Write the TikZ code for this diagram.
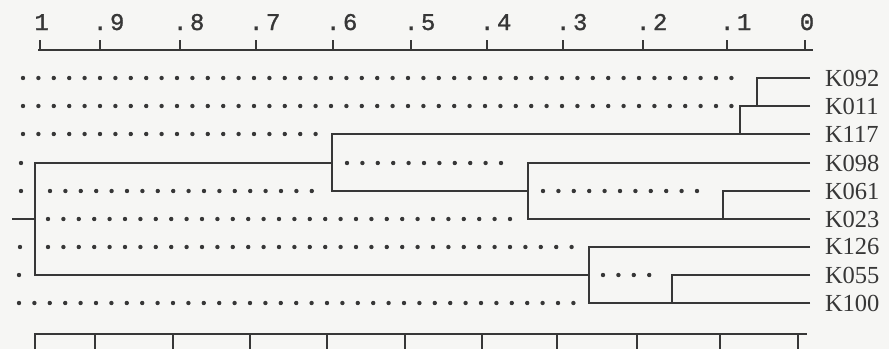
\documentclass[tikz,border=0pt]{standalone}
\usepackage{tikz}
\usepackage{fontspec}
\setmainfont{Liberation Serif}
\newfontfamily\typewriter[FakeBold=1.2]{Liberation Mono}
\usetikzlibrary{calc,positioning}
\definecolor{ink}{RGB}{55,55,55}
\definecolor{paper}{RGB}{246,246,244}

\begin{document}
\begin{tikzpicture}[x=1pt, y=-1pt,
  tree/.style={draw=ink, line width=2.7pt},
  tick/.style={draw=ink, line width=2.2pt},
  dotrow/.style={draw=ink, line width=4.4pt, line cap=round, dash pattern=on 0pt off 15.4pt},
  leaf/.style={anchor=west, inner sep=0pt, outer xsep=15pt, outer ysep=0pt, text=ink,
               font=\fontsize{24.5}{25}\selectfont},
  scalelbl/.style={anchor=base west, inner sep=0pt, text=ink, font=\typewriter\fontsize{24}{24}\selectfont}]

\fill[paper] (0,0) rectangle (889,349);
\useasboundingbox (0,0) rectangle (889,349);

% scale on top
\draw[tick] (38,50) -- (813,50);
\foreach \x in {40,100,180,256,333,411,487,563,643,727,805}
  \draw[tick] (\x,50) -- (\x,40);
\node[scalelbl, anchor=base] (s10) at (41.7,30) {1};
\foreach \x/\t in {100/9,180/8,256/7,333/6,411/5,487/4,563/3,643/2,727/1}
  \node[scalelbl] (s\t) at (\x-7.2,30) {.\kern2.6pt\t};
\node[scalelbl, anchor=base] (s0) at (807,30) {0};

% leaves
\node[leaf] (k092) at (810,78)  {K092};
\node[leaf] (k011) at (810,106) {K011};
\node[leaf] (k117) at (810,134) {K117};
\node[leaf] (k098) at (810,163) {K098};
\node[leaf] (k061) at (810,191) {K061};
\node[leaf] (k023) at (810,219) {K023};
\node[leaf] (k126) at (810,247) {K126};
\node[leaf] (k055) at (810,275) {K055};
\node[leaf] (k100) at (810,303) {K100};

% merge points
\coordinate (m1) at (757,106);
\coordinate (m2) at (740,134);
\coordinate (m3) at (723,219);
\coordinate (m4) at (528,191);
\coordinate (m5) at (332,163);
\coordinate (m6) at (672,303);
\coordinate (m7) at (589,275);
\coordinate (m8) at (35,219);
\coordinate (root) at (12,219);

% dotted filler rows
\foreach \y/\xa/\xb in {78/23/742, 106/23/735, 134/23/317, 163/347/513,
    191/50/317, 191/543/707, 219/48/513, 247/48/575, 275/603/657, 303/19/575}
  \draw[dotrow] (\xa,\y) -- (\xb,\y);
\foreach \x/\y in {21/163, 21/191, 20/247, 19/275}
  \fill[ink] (\x,\y) circle (2.2);

% tree
\draw[tree] (k092.west) -| (m1);
\draw[tree] (k011.west) -- (m1) -| (m2);
\draw[tree] (k117.west) -- (m2) -| (m5);
\draw[tree] (k061.west) -| (m3);
\draw[tree] (k023.west) -- (m3) -| (m4);
\draw[tree] (k098.west) -| (m4);
\draw[tree] (m4) -| (m5);
\draw[tree] (k055.west) -| (m6);
\draw[tree] (k100.west) -- (m6) -| (m7);
\draw[tree] (k126.west) -| (m7);
\draw[tree] (m5) -| (m8);
\draw[tree] (m7) -| (m8);
\draw[tree] (m8) -- (root);

% scale at the bottom
\draw[tick] (35,349) -- (35,334) -- (807,334);
\foreach \x in {95,173,250,327,405,482,557,637,720,798}
  \draw[tick] (\x,334) -- (\x,349);
\end{tikzpicture}
\end{document}
